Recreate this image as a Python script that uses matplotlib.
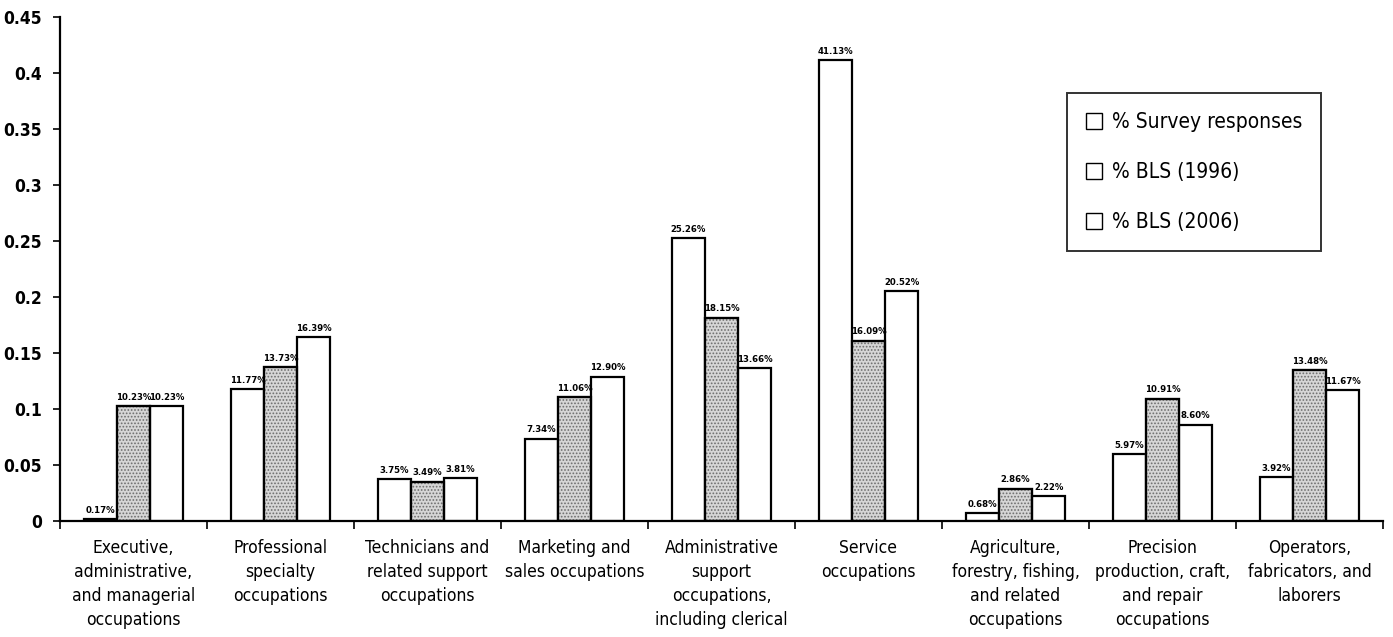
import matplotlib
matplotlib.use("Agg")
import matplotlib.pyplot as plt
from matplotlib.patches import Patch
import numpy as np

categories = [
    "Executive,\nadministrative,\nand managerial\noccupations",
    "Professional\nspecialty\noccupations",
    "Technicians and\nrelated support\noccupations",
    "Marketing and\nsales occupations",
    "Administrative\nsupport\noccupations,\nincluding clerical",
    "Service\noccupations",
    "Agriculture,\nforestry, fishing,\nand related\noccupations",
    "Precision\nproduction, craft,\nand repair\noccupations",
    "Operators,\nfabricators, and\nlaborers",
]
survey = [0.0017, 0.1177, 0.0375, 0.0734, 0.2526, 0.4113, 0.0068, 0.0597, 0.0392]
bls_1996 = [0.1023, 0.1373, 0.0349, 0.1106, 0.1815, 0.1609, 0.0286, 0.1091, 0.1348]
bls_2006 = [0.1023, 0.1639, 0.0381, 0.1290, 0.1366, 0.2052, 0.0222, 0.0860, 0.1167]
series_names = ["% Survey responses", "% BLS (1996)", "% BLS (2006)"]
yticks = [0, 0.05, 0.1, 0.15, 0.2, 0.25, 0.3, 0.35, 0.4, 0.45]
ytick_labels = ["0", "0.05", "0.1", "0.15", "0.2", "0.25", "0.3", "0.35", "0.4", "0.45"]

plt.rcParams["font.family"] = "DejaVu Sans"
plt.rcParams["font.stretch"] = "condensed"
plt.rcParams["hatch.linewidth"] = 0.8

fig = plt.figure(figsize=(13.93, 6.37), dpi=100)
ax = fig.add_axes([0.0431, 0.1821, 0.9497, 0.7912])

x = np.arange(len(categories))
w = 0.225
styles = [
    dict(facecolor="white", hatch=None),
    dict(facecolor="#d6d6d6", hatch="....."),
    dict(facecolor="white", hatch=None),
]
for i, (vals, st) in enumerate(zip([survey, bls_1996, bls_2006], styles)):
    pos = x + (i - 1) * w
    bars = ax.bar(pos, vals, width=w, facecolor=st["facecolor"], edgecolor="black",
                  linewidth=1.6, hatch=st["hatch"], zorder=2)
    if st["hatch"]:
        # stipple drawn in grey, outline redrawn in black on top
        for b in bars:
            b.set_edgecolor("#6e6e6e")
            ax.bar(b.get_x() + b.get_width() / 2, b.get_height(), width=w,
                   facecolor="none", edgecolor="black", linewidth=1.6, zorder=3)
    for p, v in zip(pos, vals):
        ax.text(p, v + 0.004, f"{v*100:.2f}%", ha="center", va="bottom",
                fontsize=6.8, fontweight="bold", zorder=4)

ax.set_xlim(-0.5, len(categories) - 0.5)
ax.set_ylim(0, 0.45)
ax.set_yticks(yticks)
ax.set_yticklabels(ytick_labels, fontsize=12.5, fontweight="bold")
ax.set_xticks(np.arange(len(categories) + 1) - 0.5)
ax.set_xticklabels([])
ax.set_xticks(x, minor=True)
ax.set_xticklabels(categories, minor=True, fontsize=12.5, linespacing=1.42)
ax.tick_params(axis="x", which="minor", length=0, pad=13)
ax.tick_params(axis="x", which="major", length=6, width=1.2, direction="out")
ax.tick_params(axis="y", length=5, width=1.2, direction="out", pad=8)
for s in ["top", "right"]:
    ax.spines[s].set_visible(False)
for s in ["left", "bottom"]:
    ax.spines[s].set_linewidth(1.6)

handles = [Patch(facecolor="white", edgecolor="black", linewidth=1.0) for _ in series_names]
leg = ax.legend(handles, series_names, loc="upper left", bbox_to_anchor=(0.761, 0.849),
                fontsize=15, frameon=True, fancybox=False, handlelength=0.8,
                handleheight=0.8, handletextpad=0.45, labelspacing=1.45,
                borderpad=0.9, borderaxespad=0)
leg.get_frame().set_edgecolor("black")
leg.get_frame().set_linewidth(1.4)

fig.savefig("out.png", dpi=100)
